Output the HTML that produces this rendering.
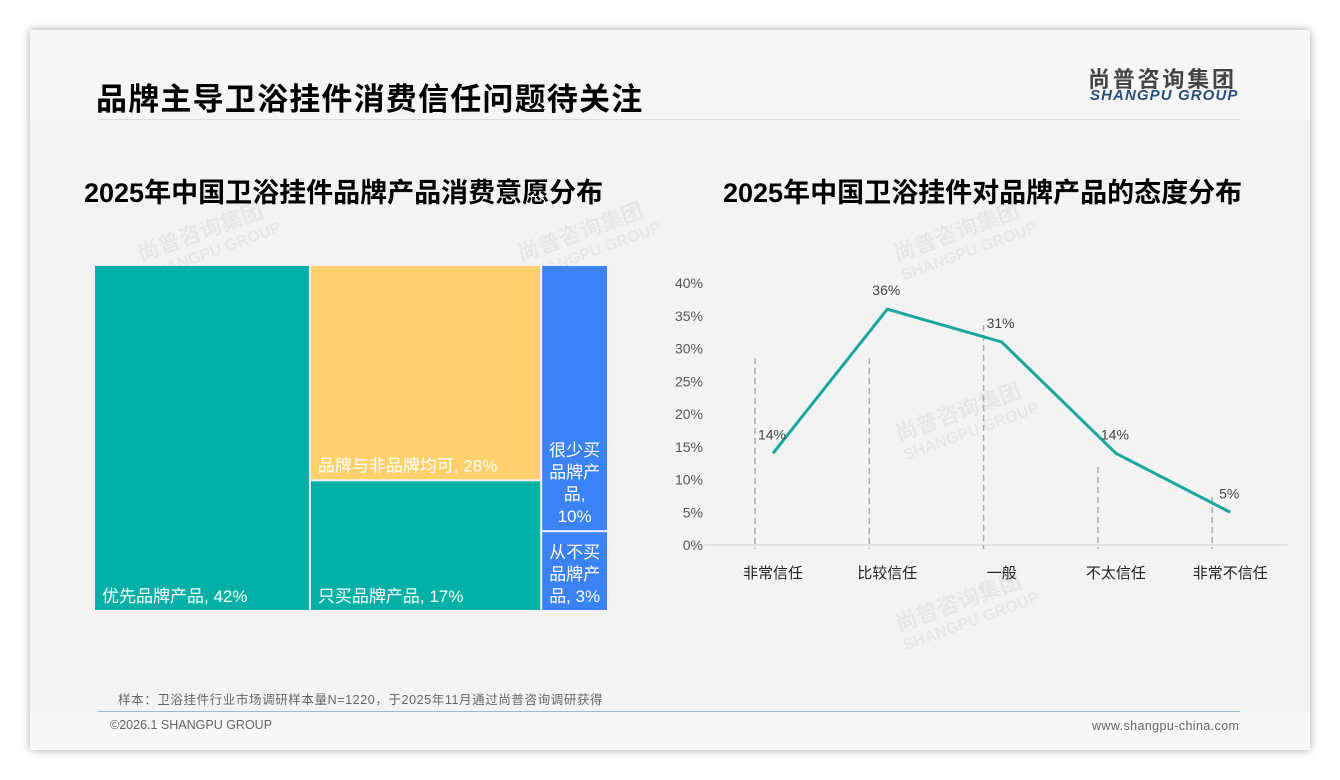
<!DOCTYPE html>
<html><head><meta charset="utf-8">
<style>
body{margin:0;width:1340px;height:780px;background:#fff;font-family:"Liberation Sans","Noto Sans CJK SC",sans-serif;position:relative;overflow:hidden}
#card{position:absolute;left:30px;top:30px;width:1280px;height:720px;background:#f3f3f3;box-shadow:0 0 8px rgba(0,0,0,.35)}
.t{position:absolute;white-space:nowrap}
.wm{position:absolute;color:rgba(0,0,0,.05);font-weight:bold;transform:rotate(-20deg);font-size:22px;line-height:20px}
</style></head><body>
<div id="card">
<div style="position:absolute;left:0;top:0;width:1280px;height:90px;background:#f6f6f6"></div>
<div class="t" style="left:66px;top:44px;font-size:31px;font-weight:bold;color:#000;letter-spacing:1.2px">品牌主导卫浴挂件消费信任问题待关注</div>
<div class="t" style="left:1058px;top:32px;font-size:22px;font-weight:bold;color:#444;letter-spacing:2.8px">尚普咨询集团</div>
<div class="t" style="left:1060px;top:57px;font-size:15px;font-weight:bold;font-style:italic;color:#2a4f7a;letter-spacing:1.1px">SHANGPU GROUP</div>
<div style="position:absolute;left:68px;top:89px;width:1142px;height:1px;background:#ddd"></div>
<div class="t" style="left:54px;top:141px;font-size:27px;font-weight:bold;color:#000;letter-spacing:0px">2025年中国卫浴挂件品牌产品消费意愿分布</div>
<div class="t" style="left:693px;top:141px;font-size:27px;font-weight:bold;color:#000;letter-spacing:0px">2025年中国卫浴挂件对品牌产品的态度分布</div>
<div class="wm" style="left:108px;top:190px">尚普咨询集团<br><span style="font-size:16px">SHANGPU GROUP</span></div>
<div class="wm" style="left:488px;top:190px">尚普咨询集团<br><span style="font-size:16px">SHANGPU GROUP</span></div>
<div class="wm" style="left:864px;top:190px">尚普咨询集团<br><span style="font-size:16px">SHANGPU GROUP</span></div>
<div class="wm" style="left:866px;top:370px">尚普咨询集团<br><span style="font-size:16px">SHANGPU GROUP</span></div>
<div class="wm" style="left:866px;top:560px">尚普咨询集团<br><span style="font-size:16px">SHANGPU GROUP</span></div>
<div class="t" style="left:88px;top:659px;font-size:12.5px;color:#666;letter-spacing:0.6px">样本：卫浴挂件行业市场调研样本量N=1220，于2025年11月通过尚普咨询调研获得</div>
<div style="position:absolute;left:0;top:682px;width:1280px;height:38px;background:#f8f8f8"></div>
<div style="position:absolute;left:68px;top:681px;width:1142px;height:1px;background:#9bb8d6"></div>
<div class="t" style="left:80px;top:688px;font-size:12.5px;color:#666">©2026.1 SHANGPU GROUP</div>
<div class="t" style="left:1062px;top:689px;font-size:12.5px;color:#666;letter-spacing:0.4px">www.shangpu-china.com</div>
</div>
<svg id="svg" width="1340" height="780" style="position:absolute;left:0;top:0"></svg>
<script>
const tmLabels=[["优先品牌产品, 42%"],["品牌与非品牌均可, 28%"],["只买品牌产品, 17%"],["很少买","品牌产","品,","10%"],["从不买","品牌产","品, 3%"]];
const tmValues=[42,28,17,10,3];
const tmColumns=[[0],[1,2],[3,4]];
const tmColors=["#00b0a6","#fdd06b","#00b0a6","#3b82f6","#3b82f6"];
const lineCats=["非常信任","比较信任","一般","不太信任","非常不信任"];
const lineVals=[14,36,31,14,5];
const yTicks=[0,5,10,15,20,25,30,35,40];
const NS="http://www.w3.org/2000/svg",svg=document.getElementById('svg');
function mk(t,a,p){const e=document.createElementNS(NS,t);for(const k in a)e.setAttribute(k,a[k]);(p||svg).appendChild(e);return e;}
const TX=95,TY=266,TW=514,TH=346,gap=2;
const tot=tmValues.reduce((a,b)=>a+b,0);
let cx=TX;
tmColumns.forEach(col=>{
 const cs=col.reduce((a,i)=>a+tmValues[i],0);
 const w=TW*cs/tot;let cy=TY;
 col.forEach(i=>{
  const h=TH*tmValues[i]/cs;
  const r=mk('rect',{x:cx,y:cy,width:w-gap,height:h-gap,fill:tmColors[i]});
  
  
  const lines=tmLabels[i];const multi=lines.length>1;
  lines.forEach((s,j)=>{
   const lh=22;
   const y=multi?cy+h-gap-8-(lines.length-1-j)*lh:cy+h-gap-8;
   const t=mk('text',{x:multi?cx+(w-gap)/2:cx+7,y:y,'font-size':17,fill:'#fff','text-anchor':multi?'middle':'start','font-family':'Liberation Sans,Noto Sans CJK SC,sans-serif'});
   t.textContent=s;
   
   
  });
  cy+=h;
 });
 cx+=w;
});
const Y0=545,Y40=283;
const ys=v=>Y0-(v/40)*(Y0-Y40);
const xs=i=>773+i*114.3;
const ax=mk('line',{x1:705,x2:1287,y1:Y0,y2:Y0,stroke:'#d0d0d0','stroke-width':1});


yTicks.forEach(v=>{const t=mk('text',{x:703,y:ys(v)+5,'font-size':14,fill:'#555','text-anchor':'end'});t.textContent=v+'%';
 
 });
const dashTop=[358,358,325,467,497];
lineCats.forEach((c,i)=>{
 const d=mk('line',{x1:xs(i)-18,x2:xs(i)-18,y1:dashTop[i],y2:Y0+4,stroke:'#aaa','stroke-width':1.5,'stroke-dasharray':'6,4'});
 
 
 const t=mk('text',{x:xs(i),y:578,'font-size':15,fill:'#222','text-anchor':'middle','font-family':'Liberation Sans,Noto Sans CJK SC,sans-serif'});t.textContent=c;
 
 
});
const pl=mk('polyline',{points:lineVals.map((v,i)=>xs(i)+','+ys(v)).join(' '),fill:'none',stroke:'#1aa79b','stroke-width':3});


lineVals.forEach((v,i)=>{
 const t=mk('text',{x:xs(i)-1,y:ys(v)-14,'font-size':14,fill:'#444','text-anchor':'middle'});t.textContent=v+'%';
 
 
});
</script>
</body></html>
